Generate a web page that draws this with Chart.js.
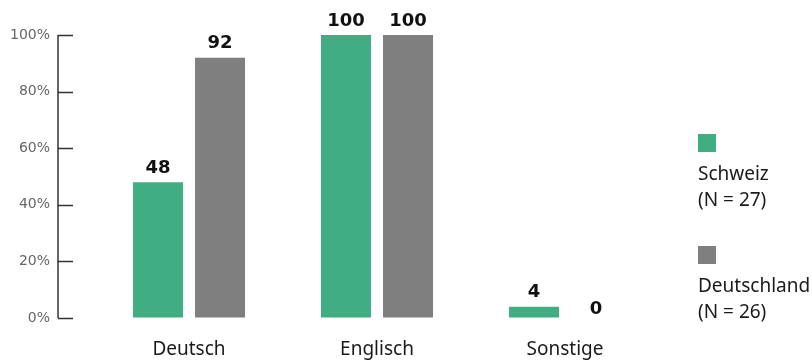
<!DOCTYPE html>
<html>
<head>
<meta charset="utf-8">
<script src="https://cdn.jsdelivr.net/npm/chart.js@4"></script>
<style>
  html, body { margin: 0; padding: 0; background: #fff; overflow: hidden; }
  #wrap { position: relative; width: 812px; height: 361px; }
  #theCanvas { display: block; position: absolute; left: 0; top: 0; width: 812px; height: 361px; }
  #legend { position: absolute; left: 698px; top: 134px; font-family: "Noto Sans", sans-serif; font-size: 19px; line-height: 26px; color: #1a1a1a; white-space: nowrap; }
  .item { margin-bottom: 34px; }
  .box { width: 18px; height: 18px; margin-bottom: 8px; }
</style>
</head>
<body>
<div id="wrap">
  <canvas id="theCanvas" width="812" height="361"></canvas>
  <div id="legend"></div>
</div>
<script>
// data
var categories = ['Deutsch', 'Englisch', 'Sonstige']
var schweizValues = [48, 100, 4]
var deutschlandValues = [92, 100, 0]
var seriesNames = ['Schweiz', 'Deutschland']
var seriesN = [27, 26]
var yTicks = [0, 20, 40, 60, 80, 100]

var colors = ['#40ad83', '#7f7f7f']

// axis line + ticks to the right of the line, and value labels on top
var drawExtras = {
    id: 'drawExtras',
    afterDatasetsDraw: function(chart){
        var ctx = chart.ctx
        var y = chart.scales.y
        var ax = chart.chartArea.left - 37
        ctx.save()
        ctx.strokeStyle = '#333'
        ctx.lineWidth = 1.5
        ctx.beginPath()
        ctx.moveTo(ax, y.getPixelForValue(0))
        ctx.lineTo(ax, y.getPixelForValue(100))
        for (var i=0; i<yTicks.length; i++){
            var py = Math.round(y.getPixelForValue(yTicks[i])) + 0.5
            ctx.moveTo(ax, py)
            ctx.lineTo(ax + 15, py)
        }
        ctx.stroke()

        ctx.fillStyle = '#111'
        ctx.font = 'bold 18px "DejaVu Sans"'
        ctx.textAlign = 'center'
        ctx.textBaseline = 'middle'
        chart.data.datasets.forEach(function(ds, di){
            var meta = chart.getDatasetMeta(di)
            meta.data.forEach(function(bar, i){
                var v = ds.data[i]
                var off = v === 0 ? 9 : 14
                ctx.fillText(String(v), bar.x, bar.y - off)
            })
        })
        ctx.restore()
    }
}

var ctx = document.getElementById('theCanvas')
var myChart = new Chart(ctx, {
    type: 'bar',
    data: {
        labels: categories,
        datasets: [{
            label: seriesNames[0],
            data: schweizValues,
            backgroundColor: colors[0]
        }, {
            label: seriesNames[1],
            data: deutschlandValues,
            backgroundColor: colors[1]
        }]
    },
    options: {
        responsive: false,
        animation: false,
        layout: { padding: { left: 0, right: 153, top: 35, bottom: 0 } },
        datasets: { bar: { categoryPercentage: 0.66, barPercentage: 0.806 } },
        plugins: { legend: { display: false }, tooltip: { enabled: false } },
        scales: {
            x: {
                grid: { display: false },
                border: { display: false },
                ticks: { padding: 12, color: '#1a1a1a', font: { family: 'Noto Sans', size: 19 } },
                afterFit: function(s){ s.height = 43 }
            },
            y: {
                min: 0,
                max: 100,
                // invisible tick marks just to push the labels left of the drawn axis
                grid: { drawOnChartArea: false, drawTicks: true, tickLength: 45, color: 'rgba(0,0,0,0)' },
                border: { display: false },
                ticks: {
                    stepSize: 20,
                    padding: 0,
                    color: '#666',
                    font: { family: 'DejaVu Sans', size: 14 },
                    callback: function(v){ return v + '%' }
                },
                afterFit: function(s){ s.width = 95 }
            }
        }
    },
    plugins: [drawExtras]
})

// legend
var html = ''
for (var i=0; i<seriesNames.length; i++){
    html += '<div class="item"><div class="box" style="background:' + colors[i] + '"></div>' +
        seriesNames[i] + '<br>(N = ' + seriesN[i] + ')</div>'
}
document.getElementById('legend').innerHTML = html
</script>
</body>
</html>
